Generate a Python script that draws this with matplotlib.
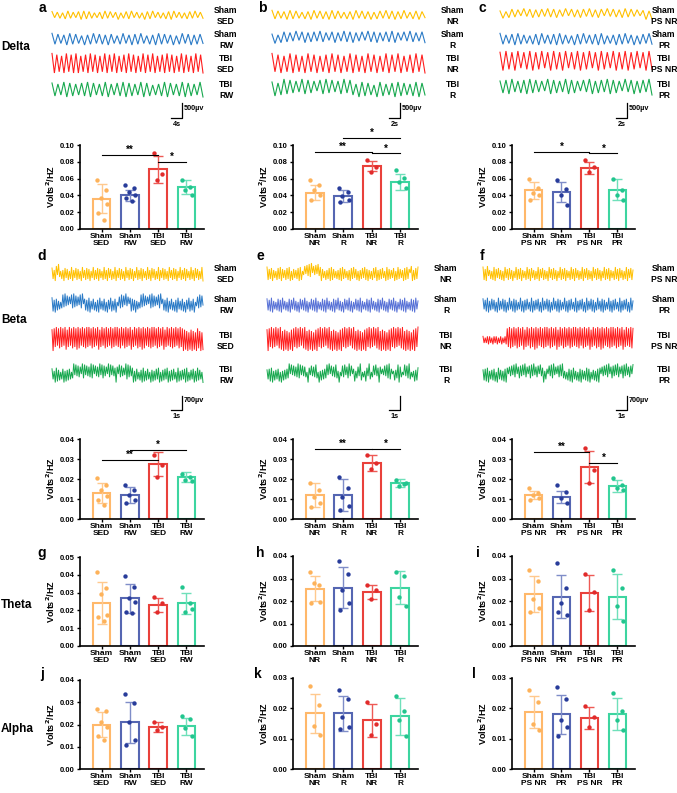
import numpy as np
import matplotlib
matplotlib.use('Agg')
import matplotlib.pyplot as plt

plt.rcParams['font.family'] = ['Liberation Sans', 'DejaVu Sans']
plt.rcParams['font.weight'] = 'bold'
plt.rcParams['axes.labelweight'] = 'bold'
plt.rcParams['mathtext.default'] = 'bf'

W, H = 677, 793

# ---------------- data ----------------
bands = ['Delta', 'Beta', 'Theta', 'Alpha']
letters = list('abcdefghijkl')
groups_1 = ['Sham\nSED', 'Sham\nRW', 'TBI\nSED', 'TBI\nRW']
groups_2 = ['Sham\nNR', 'Sham\nR', 'TBI\nNR', 'TBI\nR']
groups_3 = ['Sham\nPS NR', 'Sham\nPR', 'TBI\nPS NR', 'TBI\nPR']

# Delta
a_mean = [0.036, 0.040, 0.071, 0.050]
a_sd = [0.017, 0.007, 0.016, 0.008]
a_pts = [[0.058, 0.047, 0.037, 0.030, 0.019, 0.011], [0.052, 0.049, 0.044, 0.040, 0.037, 0.033],
         [0.090, 0.065, 0.058], [0.058, 0.050, 0.046, 0.041]]
a_sig = [(0, 2, 0.088, '**'), (2, 3, 0.080, '*')]
b_mean = [0.043, 0.039, 0.075, 0.056]
b_sd = [0.009, 0.007, 0.006, 0.009]
b_pts = [[0.058, 0.052, 0.046, 0.040, 0.035], [0.049, 0.044, 0.039, 0.035, 0.032],
         [0.082, 0.074, 0.068], [0.070, 0.061, 0.056, 0.049]]
b_sig = [(1, 3, 0.108, '*'), (0, 2, 0.092, '**'), (2, 3, 0.090, '*')]
c_mean = [0.046, 0.044, 0.073, 0.047]
c_sd = [0.010, 0.012, 0.007, 0.012]
c_pts = [[0.059, 0.049, 0.043, 0.040, 0.035], [0.058, 0.048, 0.040, 0.029],
         [0.082, 0.074, 0.068], [0.059, 0.046, 0.040, 0.035]]
c_sig = [(0, 2, 0.092, '*'), (2, 3, 0.090, '*')]
# Beta
d_mean = [0.013, 0.012, 0.0275, 0.021]
d_sd = [0.005, 0.004, 0.006, 0.0025]
d_pts = [[0.0205, 0.017, 0.0145, 0.0115, 0.0095, 0.007], [0.017, 0.0145, 0.012, 0.0095, 0.008],
         [0.032, 0.027, 0.021], [0.0225, 0.021, 0.0195, 0.019]]
d_sig = [(0, 2, 0.0295, '**'), (1, 3, 0.0345, '*')]
e_mean = [0.012, 0.012, 0.028, 0.018]
e_sd = [0.006, 0.008, 0.004, 0.002]
e_pts = [[0.018, 0.0145, 0.011, 0.008, 0.006], [0.021, 0.0155, 0.011, 0.0065, 0.0045],
         [0.032, 0.028, 0.025], [0.0195, 0.0175, 0.0165, 0.018]]
e_sig = [(0, 2, 0.035, '**'), (2, 3, 0.035, '*')]
f_mean = [0.012, 0.011, 0.026, 0.0165]
f_sd = [0.002, 0.003, 0.008, 0.003]
f_pts = [[0.0155, 0.013, 0.012, 0.0105, 0.0095], [0.017, 0.0135, 0.0105, 0.008],
         [0.0355, 0.0245, 0.018], [0.0205, 0.017, 0.0155, 0.0145]]
f_sig = [(0, 2, 0.0335, '**'), (2, 3, 0.028, '*')]
# Theta
g_mean = [0.0239, 0.0267, 0.0230, 0.0240]
g_sd = [0.0118, 0.0083, 0.0040, 0.0060]
g_pts = [[0.0413, 0.0328, 0.0294, 0.0174, 0.0163, 0.0139], [0.0394, 0.0333, 0.0272, 0.025, 0.019, 0.0183],
         [0.0274, 0.0239, 0.019], [0.033, 0.024, 0.0189, 0.021]]
h_mean = [0.0254, 0.026, 0.024, 0.026]
h_sd = [0.0056, 0.009, 0.003, 0.0073]
h_pts = [[0.033, 0.0272, 0.028, 0.0195, 0.019], [0.038, 0.032, 0.0249, 0.019, 0.0158],
         [0.027, 0.0247, 0.0208], [0.033, 0.031, 0.022, 0.018]]
i_mean = [0.023, 0.022, 0.0236, 0.022]
i_sd = [0.008, 0.0095, 0.008, 0.0098]
i_pts = [[0.034, 0.029, 0.021, 0.017, 0.015], [0.037, 0.026, 0.019, 0.014, 0.015],
         [0.032, 0.024, 0.016], [0.034, 0.026, 0.018, 0.011]]
# Alpha
j_mean = [0.020, 0.021, 0.0188, 0.0193]
j_sd = [0.0058, 0.0092, 0.0023, 0.0038]
j_pts = [[0.027, 0.026, 0.021, 0.019, 0.015, 0.013], [0.0339, 0.0298, 0.021, 0.013, 0.011],
         [0.021, 0.019, 0.0174], [0.024, 0.0225, 0.0184, 0.015]]
k_mean = [0.0183, 0.0183, 0.016, 0.0174]
k_sd = [0.0063, 0.0057, 0.0055, 0.0061]
k_pts = [[0.0272, 0.0212, 0.0141, 0.0111], [0.026, 0.0232, 0.017, 0.0139, 0.0133],
         [0.022, 0.015, 0.0112], [0.0242, 0.019, 0.016, 0.011]]
l_mean = [0.0187, 0.018, 0.0168, 0.0182]
l_sd = [0.0053, 0.0064, 0.0036, 0.0053]
l_pts = [[0.026, 0.022, 0.015, 0.013], [0.027, 0.0231, 0.016, 0.0139, 0.0109],
         [0.0209, 0.0172, 0.0139], [0.0249, 0.019, 0.016, 0.013]]

# EEG example traces: amplitude levels (0-9) of successive half-waves
delta_traces = {
    'a': ["4637285736495847263857463927485637294856372849563728475637",
          "6857496857394867584957386749586738496857493867594857",
          "7968597869795869786958796879586978695879687958697869587968597869",
          "5847695847586957486947586958476958374869574869584769"],
    'b': ["6857496857384967584968573849675849385768594867385946",
          "5746857493867584957386749586748395867485967384957486",
          "7869587968597869586978695879685978695879687958697869",
          "6857968574968573869584769587496857396847596857486957"],
    'c': ["5746857394867584958674938576849576839485769584736958",
          "6847596847385967485968473958674859683749586749385768",
          "8796879586978695879687958697869587968597869786958796",
          "7586947586958473968574968573849675849685739486758497"],
}
beta_traces = {
    'd': ["47296385172946381759264837195628473916582749361857294638175926483719562847391658274936185729463817592648371956284739165827493618572946381759",
          "58394726158493726185947362859147385926471839562748193658274913658472936158473926158493726185947362859147385926471839562748193658274913658472",
          "79869587968598769587968897859687969587968598769587968597869596879587968598769587968897859687969587968598769586978695879689786958796859876958",
          "46295837164928374615928374619582736495817364928573619482735961847352968473592846173958274619382746591837465928374619582736495817364928573619"],
    'e': ["58374926184759362847591836274958136274859163728459361827495836172849573618294756381927465839271846592837461958372649185736294857316928475",
          "47385926174839562718493657281946375829164738592617483956271849365728194637582916473859261748395627184936572819463758291647385926174839562",
          "79869786958798697869587986978695879869786958798697869587986978695879869786958798697869587986978695879869786958798697869587986978695879869",
          "36485927364819273645918273649582736419527364851927364582917364852913748265937148256397142853961472835961427385964127358964128375961428375"],
    'f': ["58396427185936472819563847291658374926185739462817593648271956384729165837492618573946281759364827195638472916583749261857394628175936482",
          "46385927463819572648391756284937165829374618592736481957264839175628493716582937461859273648195726483917562849371658293746185927364819572",
          "23132423142324132413248697869587968598769587968897859687969587968598769587968597869596879587968598769587968897859687969587968598769586978",
          "37485926374819563728495163728491657382946175839264718359264173859261748395261748395627184936275849163728495163728491657382946175839264718"],
}
trace_names = {'a': groups_1, 'b': groups_2, 'c': groups_3,
               'd': groups_1, 'e': groups_2, 'f': groups_3}

# ---------------- style ----------------
edge_cols = ['#FFB86A', '#5566B2', '#E9413B', '#3DD5A0']
err_cols = ['#FFC98E', '#7F8DC8', '#EE5A55', '#6FE0BA']
pt_cols = ['#FDB25A', '#283C9A', '#E12B2B', '#22C58E']
trace_cols = ['#FFC000', '#2A7AC6', '#FF1E1E', '#17A84E']
trace_cols_e = ['#FFC000', '#5670D6', '#FF1E1E', '#17A84E']
jit = [-0.16, 0.15, -0.03, 0.19, -0.13, 0.07]

fig = plt.figure(figsize=(W / 100, H / 100), dpi=100)
bg = fig.add_axes([0, 0, 1, 1])
bg.set_xlim(0, W)
bg.set_ylim(H, 0)
bg.axis('off')


def draw_trace(x0, x1, yc, amp, digits, color, lw):
    v = np.array([int(ch) for ch in digits]) / 9.0
    sgn = np.where(np.arange(len(v)) % 2 == 0, 1.0, -1.0)
    x = np.linspace(x0, x1, len(v))
    bg.plot(x, yc - sgn * v * amp, color=color, lw=lw, solid_joinstyle='miter')


def trace_block(key, x0, x1, ys, amps, lw, lab_x, cols, data):
    for k in range(4):
        draw_trace(x0, x1, ys[k], amps[k], data[key][k], cols[k], lw)
        bg.text(lab_x, ys[k] + 2, trace_names[key][k], ha='center', va='center',
                fontsize=6.2, fontweight='bold', linespacing=1.25)


def scale_bar(xv, ytop, ybot, xl, vlabel, hlabel):
    bg.plot([xv, xv, xl], [ytop, ybot, ybot], color='black', lw=0.9)
    if vlabel:
        bg.text(xv + 1.5, (ytop + ybot) / 2 - 2, vlabel, fontsize=5.2, ha='left', va='center')
    bg.text((xv + xl) / 2, ybot + 3, hlabel, fontsize=5.2, ha='center', va='top')


# Delta traces
delta_y = [14, 38, 62, 88]
delta_amp = [5.5, 7, 11, 9]
trace_block('a', 52, 203, delta_y, delta_amp, 0.8, 226, trace_cols, delta_traces)
trace_block('b', 272, 425, delta_y, delta_amp, 0.8, 453, trace_cols, delta_traces)
trace_block('c', 500, 652, delta_y, delta_amp, 0.8, 664, trace_cols, delta_traces)
scale_bar(182, 103, 118, 171, '500µv', '4s')
scale_bar(400, 103, 118, 389, '500µv', '2s')
scale_bar(627, 103, 118, 616, '500µv', '2s')

# Beta traces
beta_y = [272, 303, 339, 373]
beta_amp = [9, 9.5, 12, 9.5]
trace_block('d', 52, 203, beta_y, beta_amp, 0.7, 226, trace_cols, beta_traces)
trace_block('e', 267, 418, beta_y, beta_amp, 0.7, 446, trace_cols_e, beta_traces)
trace_block('f', 483, 633, beta_y, beta_amp, 0.7, 664, trace_cols, beta_traces)
scale_bar(182, 396, 410, 171, '700µv', '1s')
scale_bar(400, 396, 410, 389, None, '1s')
scale_bar(627, 396, 410, 616, '700µv', '1s')

# band labels
for name, yy in zip(bands, [47, 320, 605, 729]):
    bg.text(1, yy, name, fontsize=8.5, fontweight='bold', ha='left', va='center')

# panel letters
letter_pos = [(42, 8), (262, 8), (482, 8), (42, 256), (260, 256), (482, 256),
              (42, 553), (260, 553), (478, 553), (42, 674), (258, 674), (474, 674)]
for L, (px, py) in zip(letters, letter_pos):
    bg.text(px, py, L, fontsize=10, fontweight='bold', ha='center', va='center')

cols_px = [(80, 204), (293, 418), (512, 635)]


def bar_panel(col, ytop, ybot, ymax, cats, means, sds, pts, sigs):
    x0, x1 = cols_px[col]
    ax = fig.add_axes([x0 / W, 1 - ybot / H, (x1 - x0) / W, (ybot - ytop) / H])
    for k in range(4):
        ax.bar(k, means[k], width=0.62, facecolor='white', edgecolor=edge_cols[k],
               linewidth=1.5, zorder=2)
        ax.errorbar(k, means[k], yerr=sds[k], color=err_cols[k], capsize=3.8,
                    capthick=1.0, elinewidth=1.0, zorder=3)
        n = len(pts[k])
        ax.scatter(np.full(n, k) + np.array(jit[:n]), pts[k], s=10, color=pt_cols[k],
                   zorder=4, clip_on=False, linewidths=0)
    for (p, q, yy, txt) in sigs:
        ax.plot([p, q], [yy, yy], color='black', lw=0.8, clip_on=False, zorder=5)
        ax.text((p + q) / 2, yy, txt, ha='center', va='bottom', fontsize=7,
                fontweight='bold', clip_on=False)
    ax.set_xlim(-0.77, 3.63)
    ax.set_ylim(0, ymax)
    step = 0.02 if ymax > 0.06 else 0.01
    ticks = np.arange(0, ymax + step / 2, step)
    ax.set_yticks(ticks)
    ax.set_yticklabels(['%.2f' % t for t in ticks])
    ax.set_xticks(range(4))
    ax.set_xticklabels(cats, linespacing=1.0)
    for s in ['top', 'right']:
        ax.spines[s].set_visible(False)
    for s in ['left', 'bottom']:
        ax.spines[s].set_linewidth(1.2)
    ax.tick_params(axis='both', labelsize=5.5, width=1.0, length=2.5, pad=1.5)
    ax.tick_params(axis='x', labelsize=6.0, length=2, pad=1)
    ax.set_ylabel(r'Volts$^\mathbf{2}$/HZ', fontsize=6.5, fontweight='bold', labelpad=2)
    return ax


bar_panel(0, 145, 229, 0.10, groups_1, a_mean, a_sd, a_pts, a_sig)
bar_panel(1, 145, 229, 0.10, groups_2, b_mean, b_sd, b_pts, b_sig)
bar_panel(2, 145, 229, 0.10, groups_3, c_mean, c_sd, c_pts, c_sig)
bar_panel(0, 439, 519, 0.04, groups_1, d_mean, d_sd, d_pts, d_sig)
bar_panel(1, 439, 519, 0.04, groups_2, e_mean, e_sd, e_pts, e_sig)
bar_panel(2, 439, 519, 0.04, groups_3, f_mean, f_sd, f_pts, f_sig)
bar_panel(0, 557, 646, 0.05, groups_1, g_mean, g_sd, g_pts, [])
bar_panel(1, 556, 646, 0.04, groups_2, h_mean, h_sd, h_pts, [])
bar_panel(2, 556, 646, 0.04, groups_3, i_mean, i_sd, i_pts, [])
bar_panel(0, 680, 769, 0.04, groups_1, j_mean, j_sd, j_pts, [])
bar_panel(1, 678, 769, 0.03, groups_2, k_mean, k_sd, k_pts, [])
bar_panel(2, 678, 769, 0.03, groups_3, l_mean, l_sd, l_pts, [])

fig.savefig('out.png', dpi=100)
